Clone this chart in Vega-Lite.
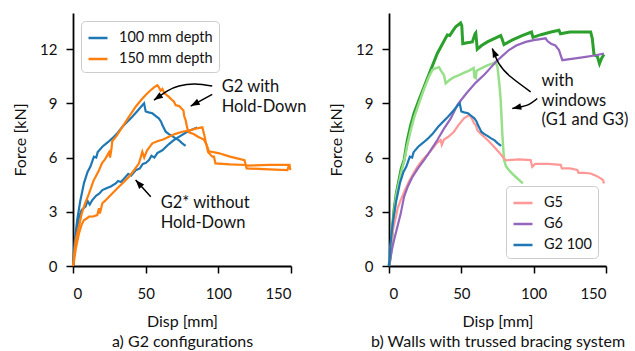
{
  "$schema": "https://vega.github.io/schema/vega-lite/v6.json",
  "background": "white",
  "padding": {"left": 12, "top": 13, "right": 5, "bottom": 5},
  "config": {
    "font": "Lato",
    "view": {"stroke": null},
    "axis": {"domainColor": "black", "domainWidth": 1.8, "tickColor": "black", "tickWidth": 1.5, "tickSize": 7, "labelColor": "#111", "titleColor": "#111", "labelFontSize": 15, "titleFontSize": 16, "titleFontWeight": "normal", "grid": false},
    "axisY": {"labelPadding": 9, "titlePadding": 11},
    "axisX": {"labelPadding": 13, "titlePadding": 12, "titleLineHeight": 20},
    "legend": {"strokeColor": "#cccccc", "cornerRadius": 4, "padding": 6, "fillColor": "rgba(255,255,255,0.85)", "symbolType": "stroke", "symbolSize": 361, "symbolStrokeWidth": 2.5, "labelFontSize": 14.5, "labelColor": "#111", "rowPadding": 3, "labelOffset": 10, "offset": 8}
  },
  "datasets": {
    "curves": [
      {"p":"L","s":"a1","c":"100 mm depth","i":0,"d":0,"F":0},{"p":"L","s":"a1","c":"100 mm depth","i":1,"d":1,"F":1.2},{"p":"L","s":"a1","c":"100 mm depth","i":2,"d":1.8,"F":1.8},{"p":"L","s":"a1","c":"100 mm depth","i":3,"d":3,"F":2.6},{"p":"L","s":"a1","c":"100 mm depth","i":4,"d":5,"F":3.6},{"p":"L","s":"a1","c":"100 mm depth","i":5,"d":7.6,"F":4.6},{"p":"L","s":"a1","c":"100 mm depth","i":6,"d":10,"F":5.2},{"p":"L","s":"a1","c":"100 mm depth","i":7,"d":12,"F":5.5},{"p":"L","s":"a1","c":"100 mm depth","i":8,"d":13.3,"F":5.8},{"p":"L","s":"a1","c":"100 mm depth","i":9,"d":14.4,"F":6.05},{"p":"L","s":"a1","c":"100 mm depth","i":10,"d":16,"F":6.0},{"p":"L","s":"a1","c":"100 mm depth","i":11,"d":17,"F":6.3},{"p":"L","s":"a1","c":"100 mm depth","i":12,"d":20.2,"F":6.6},{"p":"L","s":"a1","c":"100 mm depth","i":13,"d":24,"F":6.85},{"p":"L","s":"a1","c":"100 mm depth","i":14,"d":27,"F":7.06},{"p":"L","s":"a1","c":"100 mm depth","i":15,"d":30,"F":7.3},{"p":"L","s":"a1","c":"100 mm depth","i":16,"d":34,"F":7.7},{"p":"L","s":"a1","c":"100 mm depth","i":17,"d":37,"F":7.95},{"p":"L","s":"a1","c":"100 mm depth","i":18,"d":40.8,"F":8.26},{"p":"L","s":"a1","c":"100 mm depth","i":19,"d":44,"F":8.55},{"p":"L","s":"a1","c":"100 mm depth","i":20,"d":47.7,"F":8.9},{"p":"L","s":"a1","c":"100 mm depth","i":21,"d":48.9,"F":9.0},{"p":"L","s":"a1","c":"100 mm depth","i":22,"d":50,"F":8.55},{"p":"L","s":"a1","c":"100 mm depth","i":23,"d":52,"F":8.5},{"p":"L","s":"a1","c":"100 mm depth","i":24,"d":54.6,"F":8.45},{"p":"L","s":"a1","c":"100 mm depth","i":25,"d":57,"F":8.3},{"p":"L","s":"a1","c":"100 mm depth","i":26,"d":59,"F":8.17},{"p":"L","s":"a1","c":"100 mm depth","i":27,"d":60.5,"F":8.0},{"p":"L","s":"a1","c":"100 mm depth","i":28,"d":61.5,"F":7.8},{"p":"L","s":"a1","c":"100 mm depth","i":29,"d":63.8,"F":7.43},{"p":"L","s":"a1","c":"100 mm depth","i":30,"d":66,"F":7.3},{"p":"L","s":"a1","c":"100 mm depth","i":31,"d":68,"F":7.2},{"p":"L","s":"a1","c":"100 mm depth","i":32,"d":70.6,"F":7.06},{"p":"L","s":"a1","c":"100 mm depth","i":33,"d":73,"F":6.95},{"p":"L","s":"a1","c":"100 mm depth","i":34,"d":75,"F":6.8},{"p":"L","s":"a1","c":"100 mm depth","i":35,"d":77.5,"F":6.65},
      {"p":"L","s":"a2","c":"100 mm depth","i":0,"d":0,"F":0},{"p":"L","s":"a2","c":"100 mm depth","i":1,"d":1,"F":0.8},{"p":"L","s":"a2","c":"100 mm depth","i":2,"d":2,"F":1.6},{"p":"L","s":"a2","c":"100 mm depth","i":3,"d":4.1,"F":2.7},{"p":"L","s":"a2","c":"100 mm depth","i":4,"d":6,"F":3.1},{"p":"L","s":"a2","c":"100 mm depth","i":5,"d":8.7,"F":3.3},{"p":"L","s":"a2","c":"100 mm depth","i":6,"d":10,"F":3.6},{"p":"L","s":"a2","c":"100 mm depth","i":7,"d":11.5,"F":3.4},{"p":"L","s":"a2","c":"100 mm depth","i":8,"d":13.3,"F":3.65},{"p":"L","s":"a2","c":"100 mm depth","i":9,"d":16,"F":3.9},{"p":"L","s":"a2","c":"100 mm depth","i":10,"d":18,"F":4.0},{"p":"L","s":"a2","c":"100 mm depth","i":11,"d":20.2,"F":4.2},{"p":"L","s":"a2","c":"100 mm depth","i":12,"d":23,"F":4.3},{"p":"L","s":"a2","c":"100 mm depth","i":13,"d":26,"F":4.4},{"p":"L","s":"a2","c":"100 mm depth","i":14,"d":29.4,"F":4.57},{"p":"L","s":"a2","c":"100 mm depth","i":15,"d":31,"F":4.7},{"p":"L","s":"a2","c":"100 mm depth","i":16,"d":33,"F":4.65},{"p":"L","s":"a2","c":"100 mm depth","i":17,"d":36.3,"F":4.94},{"p":"L","s":"a2","c":"100 mm depth","i":18,"d":38,"F":5.1},{"p":"L","s":"a2","c":"100 mm depth","i":19,"d":40,"F":5.0},{"p":"L","s":"a2","c":"100 mm depth","i":20,"d":43.1,"F":5.3},{"p":"L","s":"a2","c":"100 mm depth","i":21,"d":46,"F":5.4},{"p":"L","s":"a2","c":"100 mm depth","i":22,"d":48,"F":5.65},{"p":"L","s":"a2","c":"100 mm depth","i":23,"d":50,"F":5.7},{"p":"L","s":"a2","c":"100 mm depth","i":24,"d":52.3,"F":5.86},{"p":"L","s":"a2","c":"100 mm depth","i":25,"d":54,"F":6.1},{"p":"L","s":"a2","c":"100 mm depth","i":26,"d":56,"F":6.0},{"p":"L","s":"a2","c":"100 mm depth","i":27,"d":58,"F":6.25},{"p":"L","s":"a2","c":"100 mm depth","i":28,"d":61.5,"F":6.4},{"p":"L","s":"a2","c":"100 mm depth","i":29,"d":66,"F":6.75},{"p":"L","s":"a2","c":"100 mm depth","i":30,"d":70,"F":7.0},{"p":"L","s":"a2","c":"100 mm depth","i":31,"d":74,"F":7.2},{"p":"L","s":"a2","c":"100 mm depth","i":32,"d":78,"F":7.4},{"p":"L","s":"a2","c":"100 mm depth","i":33,"d":82,"F":7.55},{"p":"L","s":"a2","c":"100 mm depth","i":34,"d":85.5,"F":7.67},
      {"p":"L","s":"a3","c":"150 mm depth","i":0,"d":0,"F":0},{"p":"L","s":"a3","c":"150 mm depth","i":1,"d":1,"F":0.8},{"p":"L","s":"a3","c":"150 mm depth","i":2,"d":2,"F":1.5},{"p":"L","s":"a3","c":"150 mm depth","i":3,"d":4.1,"F":2.2},{"p":"L","s":"a3","c":"150 mm depth","i":4,"d":6,"F":2.9},{"p":"L","s":"a3","c":"150 mm depth","i":5,"d":8,"F":3.4},{"p":"L","s":"a3","c":"150 mm depth","i":6,"d":11,"F":4.0},{"p":"L","s":"a3","c":"150 mm depth","i":7,"d":14,"F":4.7},{"p":"L","s":"a3","c":"150 mm depth","i":8,"d":17.9,"F":5.3},{"p":"L","s":"a3","c":"150 mm depth","i":9,"d":20,"F":5.7},{"p":"L","s":"a3","c":"150 mm depth","i":10,"d":22,"F":5.9},{"p":"L","s":"a3","c":"150 mm depth","i":11,"d":24.8,"F":6.3},{"p":"L","s":"a3","c":"150 mm depth","i":12,"d":25.5,"F":6.0},{"p":"L","s":"a3","c":"150 mm depth","i":13,"d":26.5,"F":6.5},{"p":"L","s":"a3","c":"150 mm depth","i":14,"d":27,"F":6.9},{"p":"L","s":"a3","c":"150 mm depth","i":15,"d":30,"F":7.2},{"p":"L","s":"a3","c":"150 mm depth","i":16,"d":34,"F":7.7},{"p":"L","s":"a3","c":"150 mm depth","i":17,"d":38,"F":8.2},{"p":"L","s":"a3","c":"150 mm depth","i":18,"d":43,"F":8.8},{"p":"L","s":"a3","c":"150 mm depth","i":19,"d":47,"F":9.2},{"p":"L","s":"a3","c":"150 mm depth","i":20,"d":50,"F":9.46},{"p":"L","s":"a3","c":"150 mm depth","i":21,"d":53,"F":9.7},{"p":"L","s":"a3","c":"150 mm depth","i":22,"d":56,"F":9.9},{"p":"L","s":"a3","c":"150 mm depth","i":23,"d":58,"F":10.0},{"p":"L","s":"a3","c":"150 mm depth","i":24,"d":59,"F":9.9},{"p":"L","s":"a3","c":"150 mm depth","i":25,"d":60.3,"F":9.7},{"p":"L","s":"a3","c":"150 mm depth","i":26,"d":61.5,"F":9.8},{"p":"L","s":"a3","c":"150 mm depth","i":27,"d":63,"F":9.55},{"p":"L","s":"a3","c":"150 mm depth","i":28,"d":66,"F":9.36},{"p":"L","s":"a3","c":"150 mm depth","i":29,"d":68,"F":9.2},{"p":"L","s":"a3","c":"150 mm depth","i":30,"d":69.5,"F":9.09},{"p":"L","s":"a3","c":"150 mm depth","i":31,"d":70.6,"F":8.9},{"p":"L","s":"a3","c":"150 mm depth","i":32,"d":73,"F":8.85},{"p":"L","s":"a3","c":"150 mm depth","i":33,"d":76,"F":8.6},{"p":"L","s":"a3","c":"150 mm depth","i":34,"d":76.5,"F":8.3},{"p":"L","s":"a3","c":"150 mm depth","i":35,"d":77.5,"F":8.07},{"p":"L","s":"a3","c":"150 mm depth","i":36,"d":78.7,"F":7.6},{"p":"L","s":"a3","c":"150 mm depth","i":37,"d":79.8,"F":7.4},{"p":"L","s":"a3","c":"150 mm depth","i":38,"d":83,"F":7.3},{"p":"L","s":"a3","c":"150 mm depth","i":39,"d":86,"F":7.15},{"p":"L","s":"a3","c":"150 mm depth","i":40,"d":90,"F":7.0},{"p":"L","s":"a3","c":"150 mm depth","i":41,"d":92,"F":6.7},{"p":"L","s":"a3","c":"150 mm depth","i":42,"d":93.5,"F":6.35},{"p":"L","s":"a3","c":"150 mm depth","i":43,"d":100,"F":6.25},{"p":"L","s":"a3","c":"150 mm depth","i":44,"d":108,"F":6.05},{"p":"L","s":"a3","c":"150 mm depth","i":45,"d":118,"F":5.85},{"p":"L","s":"a3","c":"150 mm depth","i":46,"d":119,"F":5.55},{"p":"L","s":"a3","c":"150 mm depth","i":47,"d":135,"F":5.6},{"p":"L","s":"a3","c":"150 mm depth","i":48,"d":149,"F":5.6},{"p":"L","s":"a3","c":"150 mm depth","i":49,"d":149.5,"F":5.3},
      {"p":"L","s":"a4","c":"150 mm depth","i":0,"d":0,"F":0},{"p":"L","s":"a4","c":"150 mm depth","i":1,"d":0.8,"F":0.33},{"p":"L","s":"a4","c":"150 mm depth","i":2,"d":2,"F":1.0},{"p":"L","s":"a4","c":"150 mm depth","i":3,"d":4.1,"F":1.8},{"p":"L","s":"a4","c":"150 mm depth","i":4,"d":6,"F":2.3},{"p":"L","s":"a4","c":"150 mm depth","i":5,"d":7.6,"F":2.54},{"p":"L","s":"a4","c":"150 mm depth","i":6,"d":9,"F":2.6},{"p":"L","s":"a4","c":"150 mm depth","i":7,"d":11,"F":2.73},{"p":"L","s":"a4","c":"150 mm depth","i":8,"d":14,"F":2.75},{"p":"L","s":"a4","c":"150 mm depth","i":9,"d":16.7,"F":2.82},{"p":"L","s":"a4","c":"150 mm depth","i":10,"d":17.9,"F":3.2},{"p":"L","s":"a4","c":"150 mm depth","i":11,"d":18.5,"F":2.9},{"p":"L","s":"a4","c":"150 mm depth","i":12,"d":20.2,"F":3.47},{"p":"L","s":"a4","c":"150 mm depth","i":13,"d":22,"F":3.6},{"p":"L","s":"a4","c":"150 mm depth","i":14,"d":24.8,"F":3.83},{"p":"L","s":"a4","c":"150 mm depth","i":15,"d":28,"F":4.1},{"p":"L","s":"a4","c":"150 mm depth","i":16,"d":31.6,"F":4.39},{"p":"L","s":"a4","c":"150 mm depth","i":17,"d":35,"F":4.65},{"p":"L","s":"a4","c":"150 mm depth","i":18,"d":38.5,"F":4.94},{"p":"L","s":"a4","c":"150 mm depth","i":19,"d":42,"F":5.3},{"p":"L","s":"a4","c":"150 mm depth","i":20,"d":45.4,"F":5.68},{"p":"L","s":"a4","c":"150 mm depth","i":21,"d":47.7,"F":6.32},{"p":"L","s":"a4","c":"150 mm depth","i":22,"d":49,"F":6.0},{"p":"L","s":"a4","c":"150 mm depth","i":23,"d":51,"F":6.4},{"p":"L","s":"a4","c":"150 mm depth","i":24,"d":54.6,"F":6.79},{"p":"L","s":"a4","c":"150 mm depth","i":25,"d":58,"F":6.9},{"p":"L","s":"a4","c":"150 mm depth","i":26,"d":62,"F":7.0},{"p":"L","s":"a4","c":"150 mm depth","i":27,"d":66,"F":7.15},{"p":"L","s":"a4","c":"150 mm depth","i":28,"d":70,"F":7.3},{"p":"L","s":"a4","c":"150 mm depth","i":29,"d":75.2,"F":7.43},{"p":"L","s":"a4","c":"150 mm depth","i":30,"d":80,"F":7.5},{"p":"L","s":"a4","c":"150 mm depth","i":31,"d":84.4,"F":7.6},{"p":"L","s":"a4","c":"150 mm depth","i":32,"d":89,"F":7.67},{"p":"L","s":"a4","c":"150 mm depth","i":33,"d":90.5,"F":7.2},{"p":"L","s":"a4","c":"150 mm depth","i":34,"d":91.5,"F":6.8},{"p":"L","s":"a4","c":"150 mm depth","i":35,"d":93,"F":6.3},{"p":"L","s":"a4","c":"150 mm depth","i":36,"d":95.9,"F":6.05},{"p":"L","s":"a4","c":"150 mm depth","i":37,"d":97,"F":6.05},{"p":"L","s":"a4","c":"150 mm depth","i":38,"d":98,"F":5.68},{"p":"L","s":"a4","c":"150 mm depth","i":39,"d":108,"F":5.62},{"p":"L","s":"a4","c":"150 mm depth","i":40,"d":118.8,"F":5.59},{"p":"L","s":"a4","c":"150 mm depth","i":41,"d":119.5,"F":5.4},{"p":"L","s":"a4","c":"150 mm depth","i":42,"d":135,"F":5.35},{"p":"L","s":"a4","c":"150 mm depth","i":43,"d":147.5,"F":5.3},{"p":"L","s":"a4","c":"150 mm depth","i":44,"d":148.5,"F":5.55},
      {"p":"R","s":"b1","c":"G1","i":0,"d":0,"F":0},{"p":"R","s":"b1","c":"G1","i":1,"d":1.2,"F":0.7},{"p":"R","s":"b1","c":"G1","i":2,"d":2.3,"F":2.0},{"p":"R","s":"b1","c":"G1","i":3,"d":3.5,"F":3.1},{"p":"R","s":"b1","c":"G1","i":4,"d":5,"F":4.0},{"p":"R","s":"b1","c":"G1","i":5,"d":6.9,"F":4.76},{"p":"R","s":"b1","c":"G1","i":6,"d":8.5,"F":5.4},{"p":"R","s":"b1","c":"G1","i":7,"d":10.4,"F":5.86},{"p":"R","s":"b1","c":"G1","i":8,"d":12.7,"F":6.97},{"p":"R","s":"b1","c":"G1","i":9,"d":15,"F":7.8},{"p":"R","s":"b1","c":"G1","i":10,"d":17.3,"F":8.45},{"p":"R","s":"b1","c":"G1","i":11,"d":20.7,"F":9.18},{"p":"R","s":"b1","c":"G1","i":12,"d":24.2,"F":9.9},{"p":"R","s":"b1","c":"G1","i":13,"d":28.8,"F":10.84},{"p":"R","s":"b1","c":"G1","i":14,"d":33.4,"F":11.76},{"p":"R","s":"b1","c":"G1","i":15,"d":37,"F":12.3},{"p":"R","s":"b1","c":"G1","i":16,"d":40.3,"F":12.78},{"p":"R","s":"b1","c":"G1","i":17,"d":42,"F":12.75},{"p":"R","s":"b1","c":"G1","i":18,"d":44,"F":13.0},{"p":"R","s":"b1","c":"G1","i":19,"d":46.1,"F":13.24},{"p":"R","s":"b1","c":"G1","i":20,"d":49.5,"F":13.45},{"p":"R","s":"b1","c":"G1","i":21,"d":50.3,"F":13.3},{"p":"R","s":"b1","c":"G1","i":22,"d":51,"F":12.3},{"p":"R","s":"b1","c":"G1","i":23,"d":54,"F":12.35},{"p":"R","s":"b1","c":"G1","i":24,"d":57.6,"F":12.4},{"p":"R","s":"b1","c":"G1","i":25,"d":59.5,"F":12.85},{"p":"R","s":"b1","c":"G1","i":26,"d":60,"F":12.9},{"p":"R","s":"b1","c":"G1","i":27,"d":61,"F":12.0},{"p":"R","s":"b1","c":"G1","i":28,"d":64,"F":12.2},{"p":"R","s":"b1","c":"G1","i":29,"d":68,"F":12.4},{"p":"R","s":"b1","c":"G1","i":30,"d":72,"F":12.55},{"p":"R","s":"b1","c":"G1","i":31,"d":77.2,"F":12.75},{"p":"R","s":"b1","c":"G1","i":32,"d":78,"F":12.6},{"p":"R","s":"b1","c":"G1","i":33,"d":79.5,"F":12.25},{"p":"R","s":"b1","c":"G1","i":34,"d":85,"F":12.5},{"p":"R","s":"b1","c":"G1","i":35,"d":92,"F":12.75},{"p":"R","s":"b1","c":"G1","i":36,"d":98.5,"F":12.95},{"p":"R","s":"b1","c":"G1","i":37,"d":99.5,"F":12.65},{"p":"R","s":"b1","c":"G1","i":38,"d":105,"F":12.8},{"p":"R","s":"b1","c":"G1","i":39,"d":112,"F":12.95},{"p":"R","s":"b1","c":"G1","i":40,"d":117.5,"F":13.05},{"p":"R","s":"b1","c":"G1","i":41,"d":118.5,"F":12.85},{"p":"R","s":"b1","c":"G1","i":42,"d":125,"F":12.95},{"p":"R","s":"b1","c":"G1","i":43,"d":132,"F":12.95},{"p":"R","s":"b1","c":"G1","i":44,"d":139.4,"F":12.95},{"p":"R","s":"b1","c":"G1","i":45,"d":140.5,"F":12.6},{"p":"R","s":"b1","c":"G1","i":46,"d":141.7,"F":11.7},{"p":"R","s":"b1","c":"G1","i":47,"d":144,"F":11.6},{"p":"R","s":"b1","c":"G1","i":48,"d":145.5,"F":11.2},{"p":"R","s":"b1","c":"G1","i":49,"d":147,"F":11.5},{"p":"R","s":"b1","c":"G1","i":50,"d":148.6,"F":11.7},
      {"p":"R","s":"b2","c":"G3","i":0,"d":0,"F":0},{"p":"R","s":"b2","c":"G3","i":1,"d":1,"F":0.8},{"p":"R","s":"b2","c":"G3","i":2,"d":2.3,"F":1.9},{"p":"R","s":"b2","c":"G3","i":3,"d":3.5,"F":2.9},{"p":"R","s":"b2","c":"G3","i":4,"d":5,"F":3.9},{"p":"R","s":"b2","c":"G3","i":5,"d":6.9,"F":4.6},{"p":"R","s":"b2","c":"G3","i":6,"d":8.5,"F":5.2},{"p":"R","s":"b2","c":"G3","i":7,"d":10.4,"F":5.8},{"p":"R","s":"b2","c":"G3","i":8,"d":12.7,"F":6.7},{"p":"R","s":"b2","c":"G3","i":9,"d":15,"F":7.5},{"p":"R","s":"b2","c":"G3","i":10,"d":17.3,"F":8.2},{"p":"R","s":"b2","c":"G3","i":11,"d":20.7,"F":9.0},{"p":"R","s":"b2","c":"G3","i":12,"d":24.2,"F":9.8},{"p":"R","s":"b2","c":"G3","i":13,"d":27.6,"F":10.47},{"p":"R","s":"b2","c":"G3","i":14,"d":30,"F":10.85},{"p":"R","s":"b2","c":"G3","i":15,"d":32.3,"F":10.95},{"p":"R","s":"b2","c":"G3","i":16,"d":34.6,"F":11.0},{"p":"R","s":"b2","c":"G3","i":17,"d":36,"F":10.8},{"p":"R","s":"b2","c":"G3","i":18,"d":38,"F":10.56},{"p":"R","s":"b2","c":"G3","i":19,"d":39.2,"F":10.1},{"p":"R","s":"b2","c":"G3","i":20,"d":42,"F":10.3},{"p":"R","s":"b2","c":"G3","i":21,"d":45,"F":10.45},{"p":"R","s":"b2","c":"G3","i":22,"d":48.4,"F":10.56},{"p":"R","s":"b2","c":"G3","i":23,"d":52,"F":10.7},{"p":"R","s":"b2","c":"G3","i":24,"d":55,"F":10.8},{"p":"R","s":"b2","c":"G3","i":25,"d":58.5,"F":10.95},{"p":"R","s":"b2","c":"G3","i":26,"d":59,"F":10.45},{"p":"R","s":"b2","c":"G3","i":27,"d":60,"F":10.4},{"p":"R","s":"b2","c":"G3","i":28,"d":60.5,"F":10.8},{"p":"R","s":"b2","c":"G3","i":29,"d":64,"F":10.95},{"p":"R","s":"b2","c":"G3","i":30,"d":68,"F":11.1},{"p":"R","s":"b2","c":"G3","i":31,"d":71.4,"F":11.2},{"p":"R","s":"b2","c":"G3","i":32,"d":73.7,"F":11.3},{"p":"R","s":"b2","c":"G3","i":33,"d":75,"F":11.0},{"p":"R","s":"b2","c":"G3","i":34,"d":76,"F":10.29},{"p":"R","s":"b2","c":"G3","i":35,"d":76.8,"F":9.6},{"p":"R","s":"b2","c":"G3","i":36,"d":77.2,"F":9.18},{"p":"R","s":"b2","c":"G3","i":37,"d":77.8,"F":8.2},{"p":"R","s":"b2","c":"G3","i":38,"d":78.3,"F":7.34},{"p":"R","s":"b2","c":"G3","i":39,"d":79,"F":6.5},{"p":"R","s":"b2","c":"G3","i":40,"d":79.5,"F":5.86},{"p":"R","s":"b2","c":"G3","i":41,"d":81,"F":5.5},{"p":"R","s":"b2","c":"G3","i":42,"d":82.9,"F":5.31},{"p":"R","s":"b2","c":"G3","i":43,"d":86,"F":5.05},{"p":"R","s":"b2","c":"G3","i":44,"d":89.9,"F":4.76},{"p":"R","s":"b2","c":"G3","i":45,"d":92.6,"F":4.57},
      {"p":"R","s":"b3","c":"G5","i":0,"d":0,"F":0},{"p":"R","s":"b3","c":"G5","i":1,"d":1,"F":0.9},{"p":"R","s":"b3","c":"G5","i":2,"d":2,"F":1.6},{"p":"R","s":"b3","c":"G5","i":3,"d":3.5,"F":2.3},{"p":"R","s":"b3","c":"G5","i":4,"d":5,"F":2.8},{"p":"R","s":"b3","c":"G5","i":5,"d":6,"F":3.2},{"p":"R","s":"b3","c":"G5","i":6,"d":8.1,"F":3.65},{"p":"R","s":"b3","c":"G5","i":7,"d":11,"F":4.2},{"p":"R","s":"b3","c":"G5","i":8,"d":14,"F":4.7},{"p":"R","s":"b3","c":"G5","i":9,"d":17,"F":5.15},{"p":"R","s":"b3","c":"G5","i":10,"d":19.6,"F":5.49},{"p":"R","s":"b3","c":"G5","i":11,"d":23,"F":5.85},{"p":"R","s":"b3","c":"G5","i":12,"d":27,"F":6.2},{"p":"R","s":"b3","c":"G5","i":13,"d":31.1,"F":6.6},{"p":"R","s":"b3","c":"G5","i":14,"d":33,"F":6.8},{"p":"R","s":"b3","c":"G5","i":15,"d":35.7,"F":6.97},{"p":"R","s":"b3","c":"G5","i":16,"d":36.5,"F":6.7},{"p":"R","s":"b3","c":"G5","i":17,"d":38,"F":7.0},{"p":"R","s":"b3","c":"G5","i":18,"d":41,"F":7.15},{"p":"R","s":"b3","c":"G5","i":19,"d":44.9,"F":7.43},{"p":"R","s":"b3","c":"G5","i":20,"d":48,"F":7.8},{"p":"R","s":"b3","c":"G5","i":21,"d":51.8,"F":8.17},{"p":"R","s":"b3","c":"G5","i":22,"d":55.3,"F":8.35},{"p":"R","s":"b3","c":"G5","i":23,"d":57,"F":8.2},{"p":"R","s":"b3","c":"G5","i":24,"d":58.8,"F":7.89},{"p":"R","s":"b3","c":"G5","i":25,"d":60,"F":7.8},{"p":"R","s":"b3","c":"G5","i":26,"d":61.1,"F":7.5},{"p":"R","s":"b3","c":"G5","i":27,"d":63,"F":7.35},{"p":"R","s":"b3","c":"G5","i":28,"d":65.7,"F":7.15},{"p":"R","s":"b3","c":"G5","i":29,"d":69,"F":6.9},{"p":"R","s":"b3","c":"G5","i":30,"d":72.6,"F":6.6},{"p":"R","s":"b3","c":"G5","i":31,"d":76,"F":6.3},{"p":"R","s":"b3","c":"G5","i":32,"d":79.5,"F":5.95},{"p":"R","s":"b3","c":"G5","i":33,"d":81,"F":5.85},{"p":"R","s":"b3","c":"G5","i":34,"d":90,"F":5.9},{"p":"R","s":"b3","c":"G5","i":35,"d":97.9,"F":5.86},{"p":"R","s":"b3","c":"G5","i":36,"d":99,"F":5.49},{"p":"R","s":"b3","c":"G5","i":37,"d":101,"F":5.65},{"p":"R","s":"b3","c":"G5","i":38,"d":110,"F":5.65},{"p":"R","s":"b3","c":"G5","i":39,"d":118.7,"F":5.6},{"p":"R","s":"b3","c":"G5","i":40,"d":119.5,"F":5.4},{"p":"R","s":"b3","c":"G5","i":41,"d":125,"F":5.4},{"p":"R","s":"b3","c":"G5","i":42,"d":130.2,"F":5.31},{"p":"R","s":"b3","c":"G5","i":43,"d":131,"F":5.15},{"p":"R","s":"b3","c":"G5","i":44,"d":135,"F":5.15},{"p":"R","s":"b3","c":"G5","i":45,"d":139.4,"F":5.12},{"p":"R","s":"b3","c":"G5","i":46,"d":143,"F":5.0},{"p":"R","s":"b3","c":"G5","i":47,"d":146.3,"F":4.85},{"p":"R","s":"b3","c":"G5","i":48,"d":148,"F":4.75},{"p":"R","s":"b3","c":"G5","i":49,"d":148.6,"F":4.57},
      {"p":"R","s":"b4","c":"G6","i":0,"d":0,"F":0},{"p":"R","s":"b4","c":"G6","i":1,"d":2,"F":0.9},{"p":"R","s":"b4","c":"G6","i":2,"d":3.5,"F":1.44},{"p":"R","s":"b4","c":"G6","i":3,"d":5.8,"F":2.17},{"p":"R","s":"b4","c":"G6","i":4,"d":8.1,"F":2.9},{"p":"R","s":"b4","c":"G6","i":5,"d":10.4,"F":3.83},{"p":"R","s":"b4","c":"G6","i":6,"d":13,"F":4.4},{"p":"R","s":"b4","c":"G6","i":7,"d":16,"F":4.9},{"p":"R","s":"b4","c":"G6","i":8,"d":20,"F":5.4},{"p":"R","s":"b4","c":"G6","i":9,"d":24.2,"F":5.86},{"p":"R","s":"b4","c":"G6","i":10,"d":28,"F":6.3},{"p":"R","s":"b4","c":"G6","i":11,"d":33.4,"F":6.97},{"p":"R","s":"b4","c":"G6","i":12,"d":38,"F":7.6},{"p":"R","s":"b4","c":"G6","i":13,"d":42.6,"F":8.15},{"p":"R","s":"b4","c":"G6","i":14,"d":47.2,"F":8.9},{"p":"R","s":"b4","c":"G6","i":15,"d":50,"F":9.2},{"p":"R","s":"b4","c":"G6","i":16,"d":54,"F":9.6},{"p":"R","s":"b4","c":"G6","i":17,"d":60,"F":10.15},{"p":"R","s":"b4","c":"G6","i":18,"d":66,"F":10.6},{"p":"R","s":"b4","c":"G6","i":19,"d":70,"F":10.95},{"p":"R","s":"b4","c":"G6","i":20,"d":74,"F":11.3},{"p":"R","s":"b4","c":"G6","i":21,"d":78,"F":11.6},{"p":"R","s":"b4","c":"G6","i":22,"d":82.9,"F":11.95},{"p":"R","s":"b4","c":"G6","i":23,"d":88,"F":12.2},{"p":"R","s":"b4","c":"G6","i":24,"d":94.5,"F":12.4},{"p":"R","s":"b4","c":"G6","i":25,"d":100,"F":12.5},{"p":"R","s":"b4","c":"G6","i":26,"d":108.3,"F":12.6},{"p":"R","s":"b4","c":"G6","i":27,"d":109.5,"F":12.45},{"p":"R","s":"b4","c":"G6","i":28,"d":112,"F":12.3},{"p":"R","s":"b4","c":"G6","i":29,"d":115,"F":12.2},{"p":"R","s":"b4","c":"G6","i":30,"d":117.5,"F":11.95},{"p":"R","s":"b4","c":"G6","i":31,"d":119.8,"F":11.39},{"p":"R","s":"b4","c":"G6","i":32,"d":125,"F":11.45},{"p":"R","s":"b4","c":"G6","i":33,"d":130,"F":11.5},{"p":"R","s":"b4","c":"G6","i":34,"d":136,"F":11.57},{"p":"R","s":"b4","c":"G6","i":35,"d":142,"F":11.65},{"p":"R","s":"b4","c":"G6","i":36,"d":148.6,"F":11.76},
      {"p":"R","s":"b5","c":"G2 100","i":0,"d":0,"F":0},{"p":"R","s":"b5","c":"G2 100","i":1,"d":1,"F":1.2},{"p":"R","s":"b5","c":"G2 100","i":2,"d":1.8,"F":1.8},{"p":"R","s":"b5","c":"G2 100","i":3,"d":3,"F":2.6},{"p":"R","s":"b5","c":"G2 100","i":4,"d":5,"F":3.6},{"p":"R","s":"b5","c":"G2 100","i":5,"d":7.6,"F":4.6},{"p":"R","s":"b5","c":"G2 100","i":6,"d":10,"F":5.2},{"p":"R","s":"b5","c":"G2 100","i":7,"d":12,"F":5.5},{"p":"R","s":"b5","c":"G2 100","i":8,"d":13.3,"F":5.8},{"p":"R","s":"b5","c":"G2 100","i":9,"d":14.4,"F":6.05},{"p":"R","s":"b5","c":"G2 100","i":10,"d":16,"F":6.0},{"p":"R","s":"b5","c":"G2 100","i":11,"d":17,"F":6.3},{"p":"R","s":"b5","c":"G2 100","i":12,"d":20.2,"F":6.6},{"p":"R","s":"b5","c":"G2 100","i":13,"d":24,"F":6.85},{"p":"R","s":"b5","c":"G2 100","i":14,"d":27,"F":7.06},{"p":"R","s":"b5","c":"G2 100","i":15,"d":30,"F":7.3},{"p":"R","s":"b5","c":"G2 100","i":16,"d":34,"F":7.7},{"p":"R","s":"b5","c":"G2 100","i":17,"d":37,"F":7.95},{"p":"R","s":"b5","c":"G2 100","i":18,"d":40.8,"F":8.26},{"p":"R","s":"b5","c":"G2 100","i":19,"d":44,"F":8.55},{"p":"R","s":"b5","c":"G2 100","i":20,"d":47.7,"F":8.9},{"p":"R","s":"b5","c":"G2 100","i":21,"d":48.9,"F":9.0},{"p":"R","s":"b5","c":"G2 100","i":22,"d":50,"F":8.55},{"p":"R","s":"b5","c":"G2 100","i":23,"d":52,"F":8.5},{"p":"R","s":"b5","c":"G2 100","i":24,"d":54.6,"F":8.45},{"p":"R","s":"b5","c":"G2 100","i":25,"d":57,"F":8.3},{"p":"R","s":"b5","c":"G2 100","i":26,"d":59,"F":8.17},{"p":"R","s":"b5","c":"G2 100","i":27,"d":60.5,"F":8.0},{"p":"R","s":"b5","c":"G2 100","i":28,"d":61.5,"F":7.8},{"p":"R","s":"b5","c":"G2 100","i":29,"d":63.8,"F":7.43},{"p":"R","s":"b5","c":"G2 100","i":30,"d":66,"F":7.3},{"p":"R","s":"b5","c":"G2 100","i":31,"d":68,"F":7.2},{"p":"R","s":"b5","c":"G2 100","i":32,"d":70.6,"F":7.06},{"p":"R","s":"b5","c":"G2 100","i":33,"d":73,"F":6.95},{"p":"R","s":"b5","c":"G2 100","i":34,"d":75,"F":6.8},{"p":"R","s":"b5","c":"G2 100","i":35,"d":77.5,"F":6.65}
    ],
    "arrows": [
      {"p":"L","a":"A1","i":0,"d":95.8,"F":9.96},{"p":"L","a":"A1","i":1,"d":83.9,"F":10.07},{"p":"L","a":"A1","i":2,"d":72.9,"F":9.96},{"p":"L","a":"A1","i":3,"d":64.7,"F":9.68},{"p":"L","a":"A1","i":4,"d":55.7,"F":9.18},
      {"p":"L","a":"A2","i":0,"d":95.8,"F":9.5},{"p":"L","a":"A2","i":1,"d":81.0,"F":8.85},
      {"p":"L","a":"A3","i":0,"d":53.5,"F":3.83},{"p":"L","a":"A3","i":1,"d":43.1,"F":4.76},
      {"p":"R","a":"B1","i":0,"d":97.9,"F":9.64},{"p":"R","a":"B1","i":1,"d":84.1,"F":10.47},{"p":"R","a":"B1","i":2,"d":76.0,"F":11.2},{"p":"R","a":"B1","i":3,"d":71.4,"F":12.04},
      {"p":"R","a":"B2","i":0,"d":102.5,"F":9.27},{"p":"R","a":"B2","i":1,"d":95.6,"F":8.9},{"p":"R","a":"B2","i":2,"d":85.2,"F":8.72}
    ],
    "heads": [
      {"a":"A1","d":55.7,"F":9.18},{"a":"A2","d":81.0,"F":8.85},{"a":"A3","d":43.1,"F":4.76},{"a":"B1","d":71.4,"F":12.04},{"a":"B2","d":85.2,"F":8.72}
    ],
    "labels": [
      {"p":"L","t":"G2 with","d":102.3,"F":9.92},{"p":"L","t":"Hold-Down","d":102.3,"F":8.81},
      {"p":"L","t":"G2* without","d":60.3,"F":3.47},{"p":"L","t":"Hold-Down","d":60.3,"F":2.4},
      {"p":"R","t":"with","d":105.5,"F":10.25},{"p":"R","t":"windows","d":105.5,"F":9.14},{"p":"R","t":"(G1 and G3)","d":105.5,"F":8.07}
    ]
  },
  "bounds": "flush",
  "spacing": 98,
  "resolve": {"scale": {"color": "independent"}, "legend": {"color": "independent"}},
  "hconcat": [
    {
      "width": 218, "height": 253,
      "encoding": {
        "x": {"field": "d", "type": "quantitative", "scale": {"domain": [0, 150], "nice": false}, "axis": {"values": [0, 50, 100, 150], "title": ["Disp [mm]", "a) G2 configurations"]}},
        "y": {"field": "F", "type": "quantitative", "scale": {"domain": [0, 14], "nice": false}, "axis": {"values": [0, 3, 6, 9, 12], "title": "Force [kN]"}}
      },
      "layer": [
        {"data": {"name": "curves"}, "transform": [{"filter": "datum.p == 'L'"}], "mark": {"type": "line", "strokeWidth": 2.2},
         "encoding": {"detail": {"field": "s"}, "order": {"field": "i", "type": "quantitative"},
           "color": {"field": "c", "type": "nominal", "scale": {"domain": ["100 mm depth", "150 mm depth"], "range": ["#1f77b4", "#ff7f0e"]}, "legend": {"title": null, "orient": "top-left"}}}},
        {"data": {"name": "arrows"}, "transform": [{"filter": "datum.p == 'L'"}], "mark": {"type": "line", "color": "black", "strokeWidth": 1.5, "interpolate": "natural"},
         "encoding": {"detail": {"field": "a"}, "order": {"field": "i", "type": "quantitative"}}},
        {"data": {"name": "heads"}, "transform": [{"filter": "datum.a == 'A1'"}], "mark": {"type": "point", "shape": "M0,0L-2,-0.75L-2,0.75Z", "size": 81, "filled": true, "color": "black", "opacity": 1, "angle": 145}},
        {"data": {"name": "heads"}, "transform": [{"filter": "datum.a == 'A2'"}], "mark": {"type": "point", "shape": "M0,0L-2,-0.75L-2,0.75Z", "size": 81, "filled": true, "color": "black", "opacity": 1, "angle": 152}},
        {"data": {"name": "heads"}, "transform": [{"filter": "datum.a == 'A3'"}], "mark": {"type": "point", "shape": "M0,0L-2,-0.75L-2,0.75Z", "size": 81, "filled": true, "color": "black", "opacity": 1, "angle": 228}},
        {"data": {"name": "labels"}, "transform": [{"filter": "datum.p == 'L'"}], "mark": {"type": "text", "align": "left", "baseline": "middle", "fontSize": 16.5, "color": "#111"},
         "encoding": {"text": {"field": "t"}}}
      ]
    },
    {
      "width": 217, "height": 253,
      "encoding": {
        "x": {"field": "d", "type": "quantitative", "scale": {"domain": [0, 150], "nice": false}, "axis": {"values": [0, 50, 100, 150], "title": ["Disp [mm]", "b) Walls with trussed bracing system"]}},
        "y": {"field": "F", "type": "quantitative", "scale": {"domain": [0, 14], "nice": false}, "axis": {"values": [0, 3, 6, 9, 12], "title": "Force [kN]"}}
      },
      "layer": [
        {"data": {"name": "curves"}, "transform": [{"filter": "datum.s == 'b1'"}], "mark": {"type": "line", "strokeWidth": 3, "color": "#2ca02c"},
         "encoding": {"order": {"field": "i", "type": "quantitative"}}},
        {"data": {"name": "curves"}, "transform": [{"filter": "datum.s == 'b2'"}], "mark": {"type": "line", "strokeWidth": 2.5, "color": "#98df8a"},
         "encoding": {"order": {"field": "i", "type": "quantitative"}}},
        {"data": {"name": "curves"}, "transform": [{"filter": "datum.p == 'R' && datum.s != 'b1' && datum.s != 'b2'"}], "mark": {"type": "line", "strokeWidth": 2.2},
         "encoding": {"detail": {"field": "s"}, "order": {"field": "i", "type": "quantitative"},
           "color": {"field": "c", "type": "nominal", "scale": {"domain": ["G5", "G6", "G2 100"], "range": ["#ff9896", "#9467bd", "#1f77b4"]}, "legend": {"title": null, "orient": "bottom-right"}}}},
        {"data": {"name": "arrows"}, "transform": [{"filter": "datum.p == 'R'"}], "mark": {"type": "line", "color": "black", "strokeWidth": 1.5, "interpolate": "natural"},
         "encoding": {"detail": {"field": "a"}, "order": {"field": "i", "type": "quantitative"}}},
        {"data": {"name": "heads"}, "transform": [{"filter": "datum.a == 'B1'"}], "mark": {"type": "point", "shape": "M0,0L-2,-0.75L-2,0.75Z", "size": 81, "filled": true, "color": "black", "opacity": 1, "angle": 246}},
        {"data": {"name": "heads"}, "transform": [{"filter": "datum.a == 'B2'"}], "mark": {"type": "point", "shape": "M0,0L-2,-0.75L-2,0.75Z", "size": 81, "filled": true, "color": "black", "opacity": 1, "angle": 168}},
        {"data": {"name": "labels"}, "transform": [{"filter": "datum.p == 'R'"}], "mark": {"type": "text", "align": "left", "baseline": "middle", "fontSize": 16.5, "color": "#111"},
         "encoding": {"text": {"field": "t"}}}
      ]
    }
  ]
}
